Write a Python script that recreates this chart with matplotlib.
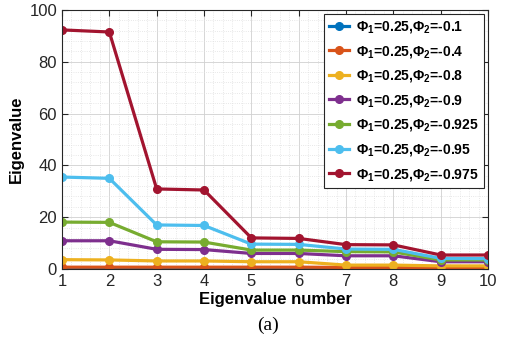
import numpy as np
import matplotlib
matplotlib.use("Agg")
import matplotlib.pyplot as plt
import matplotlib.ticker as ticker

plt.rcParams['font.family'] = ['Liberation Sans', 'DejaVu Sans']
plt.rcParams['mathtext.fontset'] = 'custom'
plt.rcParams['mathtext.rm'] = 'Liberation Sans'
plt.rcParams['mathtext.bf'] = 'Liberation Sans:bold'

eigen_number = np.arange(1, 11)

series_labels = [
    r'$\mathbf{\Phi_1}$=0.25,$\mathbf{\Phi_2}$=-0.1',
    r'$\mathbf{\Phi_1}$=0.25,$\mathbf{\Phi_2}$=-0.4',
    r'$\mathbf{\Phi_1}$=0.25,$\mathbf{\Phi_2}$=-0.8',
    r'$\mathbf{\Phi_1}$=0.25,$\mathbf{\Phi_2}$=-0.9',
    r'$\mathbf{\Phi_1}$=0.25,$\mathbf{\Phi_2}$=-0.925',
    r'$\mathbf{\Phi_1}$=0.25,$\mathbf{\Phi_2}$=-0.95',
    r'$\mathbf{\Phi_1}$=0.25,$\mathbf{\Phi_2}$=-0.975',
]

phi2_01 = [0.3, 0.3, 0.3, 0.3, 0.3, 0.3, 0.3, 0.3, 0.3, 0.3]
phi2_04 = [0.7, 0.7, 0.7, 0.7, 0.7, 0.7, 0.6, 0.6, 0.6, 0.6]
phi2_08 = [3.6, 3.5, 3.1, 3.1, 2.8, 2.8, 1.5, 1.5, 1.2, 1.2]
phi2_09 = [10.9, 10.9, 7.6, 7.5, 6.0, 6.0, 5.1, 5.1, 2.8, 2.8]
phi2_0925 = [18.1, 18.0, 10.5, 10.4, 7.3, 7.3, 6.7, 6.6, 3.5, 3.5]
phi2_095 = [35.5, 35.0, 17.0, 16.8, 9.6, 9.5, 7.7, 7.6, 4.1, 4.0]
phi2_0975 = [92.3, 91.5, 30.9, 30.5, 12.0, 11.8, 9.4, 9.3, 5.4, 5.4]

all_series = [phi2_01, phi2_04, phi2_08, phi2_09, phi2_0925, phi2_095, phi2_0975]
colors = ["#0072BD", "#D95319", "#EDB120", "#7E2F8E", "#77AC30", "#4DBEEE", "#A2142F"]

fig = plt.figure(figsize=(5.06, 3.56), dpi=100)
ax = fig.add_axes([0.1225, 0.2444, 0.842, 0.7276])

for values, col, lab in zip(all_series, colors, series_labels):
    ax.plot(eigen_number, values, color=col, lw=2.3, marker="o", markersize=5.5, label=lab)

ax.set_xlim(1, 10)
ax.set_ylim(0, 100)
ax.xaxis.set_major_locator(ticker.MultipleLocator(1))
ax.yaxis.set_major_locator(ticker.MultipleLocator(20))
ax.xaxis.set_minor_locator(ticker.MultipleLocator(0.2))
ax.yaxis.set_minor_locator(ticker.MultipleLocator(4))
ax.grid(which="major", color="#d0d0d0", linestyle="-", lw=0.6)
ax.grid(which="minor", color="#e0e0e0", linestyle=":", lw=0.6)
ax.set_axisbelow(True)
ax.tick_params(which="both", direction="in", top=True, right=True, labelsize=12, colors="#262626")
ax.tick_params(which="major", length=4)
ax.tick_params(which="minor", length=0)
for sp in ax.spines.values():
    sp.set_color("#262626")
    sp.set_linewidth(0.8)

ax.set_xlabel("Eigenvalue number", fontsize=12, fontweight="bold", labelpad=2)
ax.set_ylabel("Eigenvalue", fontsize=12, fontweight="bold", labelpad=4)

leg = ax.legend(loc="upper right", prop={"size": 10, "weight": "bold"}, fancybox=False,
                edgecolor="#262626", framealpha=1, handlelength=1.5, handletextpad=0.5,
                labelspacing=0.62, borderpad=0.35, borderaxespad=0.3)
leg.get_frame().set_linewidth(0.8)

fig.text(0.53, 0.085, "(a)", fontsize=14, family=["Liberation Serif", "DejaVu Serif"],
         ha="center", va="center")

fig.savefig("out.png", dpi=100)
